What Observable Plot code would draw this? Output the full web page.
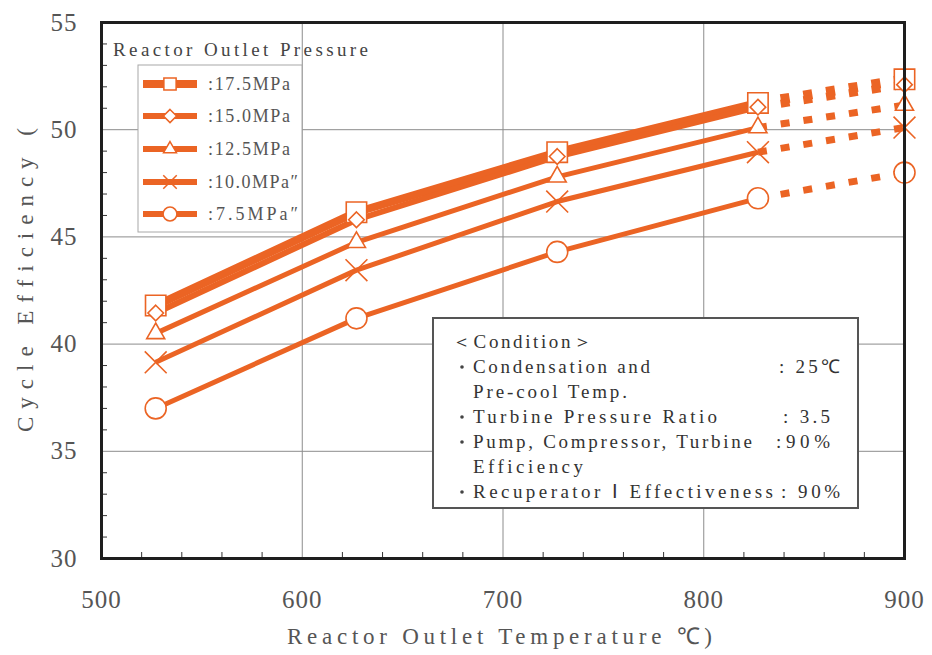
<!DOCTYPE html>
<html>
<head>
<meta charset="utf-8">
<script src="https://cdn.jsdelivr.net/npm/d3@7"></script>
<script src="https://cdn.jsdelivr.net/npm/@observablehq/plot@0.6"></script>
<style>
  html, body { margin: 0; padding: 0; background: #fff; }
  #chart { position: relative; width: 932px; height: 655px; }
</style>
</head>
<body>
<div id="chart"></div>
<script>
// Reactor outlet temperature (°C) at which each cycle was evaluated
const temperatures = [527, 627, 727, 827, 900];

// Reactor outlet pressure series
const pressures = ["17.5", "15.0", "12.5", "10.0", "7.5"];
const pressureLabels = [":17.5MPa", ":15.0MPa", ":12.5MPa", ":10.0MPa\u2033", ":7.5MPa\u2033"];

// Cycle efficiency (%) per pressure, one value per temperature
const eff17_5 = [41.8, 46.15, 48.95, 51.25, 52.35];
const eff15_0 = [41.45, 45.8, 48.75, 51.05, 52.1];
const eff12_5 = [40.5, 44.75, 47.8, 50.1, 51.15];
const eff10_0 = [39.15, 43.45, 46.65, 48.95, 50.1];
const eff7_5 = [37.0, 41.2, 44.3, 46.8, 48.0];

// Axis ticks
const xTicks = [500, 600, 700, 800, 900];
const yTicks = [30, 35, 40, 45, 50, 55];
const xGrid = [600, 700, 800];
const yGrid = [35, 40, 45, 50];
const xMinor = [520, 540, 560, 580, 620, 640, 660, 680, 720, 740, 760, 780, 820, 840, 860, 880];
const yMinor = [31, 32, 33, 34, 36, 37, 38, 39, 41, 42, 43, 44, 46, 47, 48, 49, 51, 52, 53, 54];

// Last computed point of the solid curves; beyond it the curves are extrapolated (dashed)
const solidLimit = 827;

const ORANGE = "#eb6424";
const seriesValues = [eff17_5, eff15_0, eff12_5, eff10_0, eff7_5];
const seriesSymbols = ["square", "diamond2", "triangle2", "times", "circle"];
const seriesRadius = [11.5, 7, 8.6, 10, 10.5];
const seriesWidth = [8, 6, 5, 5, 5];

const rows = pressures.flatMap((p, i) =>
  temperatures.map((t, j) => ({pressure: p, temp: t, eff: seriesValues[i][j]}))
);

const lineMarks = [];
const dotMarks = [];
pressures.forEach((p, i) => {
  const data = rows.filter(d => d.pressure === p);
  lineMarks.push(Plot.line(data.filter(d => d.temp <= solidLimit), {
    x: "temp", y: "eff", stroke: ORANGE, strokeWidth: seriesWidth[i], strokeLinecap: "butt"
  }));
  lineMarks.push(Plot.line(data.filter(d => d.temp >= solidLimit), {
    x: "temp", y: "eff", stroke: ORANGE, strokeWidth: seriesWidth[i] + 2,
    strokeDasharray: "9,14", strokeLinecap: "butt"
  }));
  dotMarks.push(Plot.dot(data, {
    x: "temp", y: "eff", symbol: seriesSymbols[i], r: seriesRadius[i],
    fill: "white", stroke: ORANGE, strokeWidth: 1.6
  }));
});

const W = 932, H = 655, ML = 101, MR = 28, MT = 22, MB = 97;
const innerW = W - ML - MR, innerH = H - MT - MB;

const chart = Plot.plot({
  width: W, height: H,
  marginLeft: ML, marginRight: MR, marginTop: MT, marginBottom: MB,
  style: {background: "white", color: "#555", fontFamily: "'Liberation Serif', serif"},
  x: {domain: [500, 900]},
  y: {domain: [30, 55]},
  marks: [
    Plot.gridX(xGrid, {stroke: "#8c8c8c", strokeOpacity: 1, strokeWidth: 1}),
    Plot.gridY(yGrid, {stroke: "#8c8c8c", strokeOpacity: 1, strokeWidth: 1}),
    Plot.tickX(xMinor, {x: d => d, insetTop: innerH - 6, stroke: "#333", strokeWidth: 1}),
    Plot.tickY(yMinor, {y: d => d, insetRight: innerW - 6, stroke: "#333", strokeWidth: 1}),
    Plot.axisX({ticks: xTicks, tickSize: 0, tickPadding: 32, fontSize: 25, label: null}),
    Plot.axisY({ticks: yTicks, tickSize: 0, tickPadding: 24, fontSize: 25, label: null}),
    ...lineMarks,
    ...dotMarks,
    Plot.frame({stroke: "#1e1e1e", strokeWidth: 3})
  ]
});

document.getElementById("chart").appendChild(chart);

const svg = d3.select(chart);
svg.selectAll('[aria-label="x-axis tick label"] text, [aria-label="y-axis tick label"] text')
  .attr("letter-spacing", "1");

const SERIF = "'Liberation Serif', serif";

// Axis titles
const titles = svg.append("g").attr("text-anchor", "start").attr("font-family", SERIF).attr("fill", "#555");
titles.append("text")
  .attr("x", 287).attr("y", 644)
  .attr("textLength", 425).attr("lengthAdjust", "spacing")
  .attr("font-size", 23)
  .text("Reactor Outlet Temperature \u2103)");
titles.append("text")
  .attr("transform", "translate(33,432) rotate(-90)")
  .attr("textLength", 304).attr("lengthAdjust", "spacing")
  .attr("font-size", 23)
  .text("Cycle Efficiency (");

// Legend
const legend = svg.append("g").attr("text-anchor", "start").attr("font-family", SERIF);
legend.append("text")
  .attr("x", 113).attr("y", 56)
  .attr("textLength", 255).attr("lengthAdjust", "spacing")
  .attr("font-size", 19)
  .attr("fill", "#444")
  .text("Reactor Outlet Pressure");
legend.append("rect")
  .attr("x", 138).attr("y", 65).attr("width", 164).attr("height", 167)
  .attr("fill", "white").attr("stroke", "#a8a8a8").attr("stroke-width", 1);

const legendSymbols = [d3.symbolSquare, d3.symbolDiamond2, d3.symbolTriangle2, d3.symbolTimes, d3.symbolCircle];
const legendSizes = [150, 110, 120, 120, 150];
const legendY = [84, 116, 149, 182, 214];
pressureLabels.forEach((label, i) => {
  const y = legendY[i];
  legend.append("line")
    .attr("x1", 143).attr("x2", 197).attr("y1", y).attr("y2", y)
    .attr("stroke", ORANGE).attr("stroke-width", i === 0 ? 8 : 6);
  legend.append("path")
    .attr("transform", `translate(170,${y})`)
    .attr("d", d3.symbol(legendSymbols[i], legendSizes[i])())
    .attr("fill", "white").attr("stroke", ORANGE).attr("stroke-width", 1.5);
  legend.append("text")
    .attr("x", 208).attr("y", y + 6)
    .attr("textLength", i >= 3 ? 90 : 82).attr("lengthAdjust", "spacing")
    .attr("font-size", 18)
    .attr("fill", "#555")
    .text(label);
});

// Calculation conditions box
const cond = svg.append("g")
  .attr("text-anchor", "start")
  .attr("font-family", SERIF).attr("font-size", 19)
  .attr("fill", "#333");
cond.append("rect")
  .attr("x", 433).attr("y", 318).attr("width", 425).attr("height", 190)
  .attr("fill", "white").attr("stroke", "#555").attr("stroke-width", 2);

const condLines = [
  {x: 452, y: 348, len: 140, text: "\uFF1CCondition\uFF1E"},
  {x: 473, y: 373, len: 177, text: "Condensation and", bullet: true},
  {x: 779, y: 373, len: 61, text: ": 25\u2103"},
  {x: 473, y: 398, len: 154, text: "Pre-cool Temp."},
  {x: 473, y: 423, len: 244, text: "Turbine Pressure Ratio", bullet: true},
  {x: 783, y: 423, len: 47, text: ": 3.5"},
  {x: 473, y: 448, len: 279, text: "Pump, Compressor, Turbine", bullet: true},
  {x: 776, y: 448, len: 54, text: ":90%"},
  {x: 473, y: 473, len: 110, text: "Efficiency"},
  {x: 473, y: 498, len: 300, text: "Recuperator \u2160 Effectiveness", bullet: true},
  {x: 781, y: 498, len: 59, text: ": 90%"}
];
condLines.forEach(l => {
  if (l.bullet) {
    cond.append("circle").attr("cx", 462).attr("cy", l.y - 6).attr("r", 1.8).attr("fill", "#444");
  }
  cond.append("text").attr("x", l.x).attr("y", l.y)
    .attr("textLength", l.len).attr("lengthAdjust", "spacing")
    .text(l.text);
});
</script>
</body>
</html>
